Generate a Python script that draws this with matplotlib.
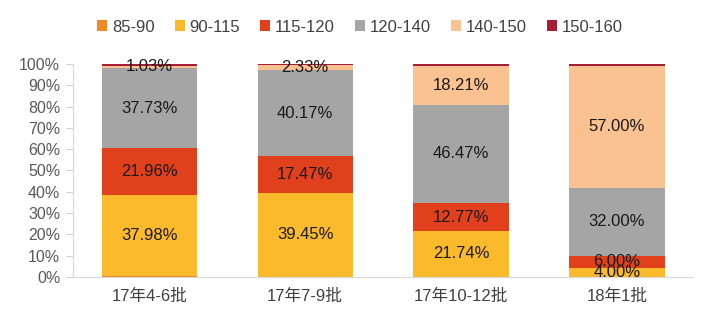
import numpy as np
import matplotlib
matplotlib.use("Agg")
import matplotlib.pyplot as plt

plt.rcParams['font.family'] = ['Liberation Sans', 'Noto Sans CJK SC', 'DejaVu Sans']

# data
categories = ['17年4-6批', '17年7-9批', '17年10-12批', '18年1批']
series = ['85-90', '90-115', '115-120', '120-140', '140-150', '150-160']
s_85_90 = [0.5, 0.0, 0.0, 0.0]
s_90_115 = [37.98, 39.45, 21.74, 4.00]
s_115_120 = [21.96, 17.47, 12.77, 6.00]
s_120_140 = [37.73, 40.17, 46.47, 32.00]
s_140_150 = [1.03, 2.33, 18.21, 57.00]
s_150_160 = [0.8, 0.58, 0.81, 1.00]
# which segments get a label
labeled = ['90-115', '115-120', '120-140', '140-150']

colors = ['#F0882A', '#FBBA2B', '#E0411C', '#A5A5A5', '#FAC191', '#A51E36']
values = [s_85_90, s_90_115, s_115_120, s_120_140, s_140_150, s_150_160]

fig = plt.figure(figsize=(7.2, 3.32), dpi=100)
ax = fig.add_axes([0.101, 0.166, 0.862, 0.641])

x = np.arange(len(categories))
bottom = np.zeros(len(categories))
for name, vals, c in zip(series, values, colors):
    v = np.array(vals) / 100.0
    ax.bar(x, v, 0.61, bottom=bottom, color=c, label=name, zorder=2)
    if name in labeled:
        for i in range(len(x)):
            ax.text(x[i], bottom[i] + v[i] / 2, f'{vals[i]:.2f}%', ha='center',
                    va='center', fontsize=12, color='#1a1a1a', zorder=3)
    bottom += v

ax.set_xlim(-0.49, 3.49)
ax.set_ylim(0, 1.0)
ticks = np.arange(0, 1.01, 0.1)
ax.set_yticks(ticks)
ax.set_yticklabels([f'{int(round(t * 100))}%' for t in ticks])
ax.set_xticks(x)
ax.set_xticklabels(categories)
ax.tick_params(axis='y', colors='#d0d0d0', labelcolor='#595959', labelsize=11.5, length=5, pad=4)
ax.tick_params(axis='x', length=0, labelcolor='#404040', labelsize=12, pad=9)
for side in ['top', 'right']:
    ax.spines[side].set_visible(False)
ax.spines['left'].set_color('#d9d9d9')
ax.spines['bottom'].set_color('#d9d9d9')

# legend centred on the figure, like the original
handles, labels = ax.get_legend_handles_labels()
fig.legend(handles, labels, loc='center', bbox_to_anchor=(0.5, 1 - 27 / 332), ncol=6,
           frameon=False, fontsize=12, handlelength=0.6, handleheight=0.6,
           handletextpad=0.3, columnspacing=1.2, labelcolor='#404040')

fig.savefig('out.png', dpi=100)
